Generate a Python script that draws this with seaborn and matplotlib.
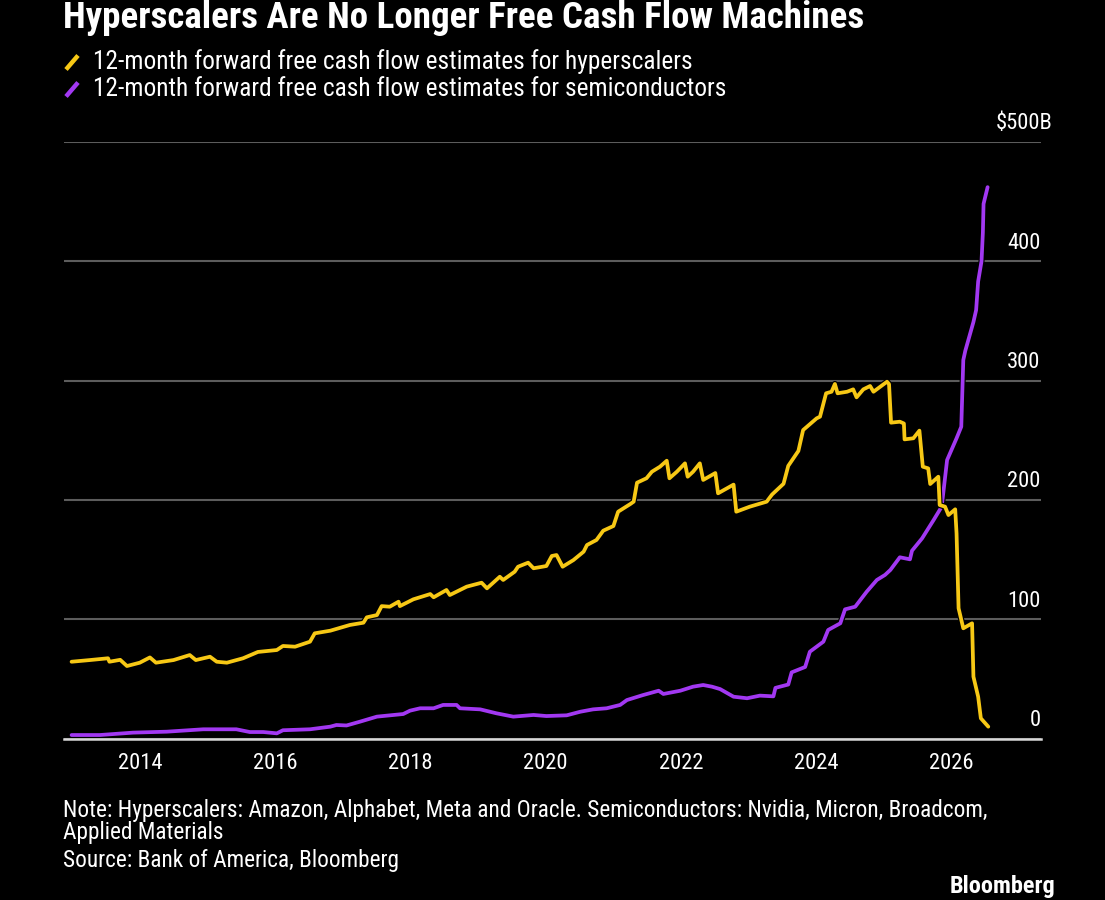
import matplotlib
matplotlib.use("Agg")
import numpy as np
import pandas as pd
import matplotlib.pyplot as plt
import seaborn as sns
from matplotlib import font_manager, transforms
from matplotlib.font_manager import FontProperties
from matplotlib.lines import Line2D
import matplotlib.patheffects as pe
import matplotlib.dates as mdates

# ---------------- data (decimal year, $B) ----------------
hyper_t = [2012.98, 2013.25, 2013.52, 2013.54, 2013.70, 2013.80, 2013.99, 2014.14, 2014.23, 2014.49,
           2014.73, 2014.82, 2015.03, 2015.13, 2015.28, 2015.52, 2015.74, 2016.02, 2016.11, 2016.29,
           2016.51, 2016.58, 2016.81, 2017.10, 2017.30, 2017.35, 2017.50, 2017.57, 2017.69, 2017.82,
           2017.84, 2018.04, 2018.29, 2018.34, 2018.53, 2018.58, 2018.83, 2019.05, 2019.13, 2019.32,
           2019.37, 2019.54, 2019.59, 2019.74, 2019.82, 2020.01, 2020.09, 2020.16, 2020.25, 2020.41,
           2020.56, 2020.61, 2020.75, 2020.85, 2021.00, 2021.07, 2021.25, 2021.30, 2021.35, 2021.49,
           2021.57, 2021.69, 2021.79, 2021.83, 2021.94, 2022.06, 2022.10, 2022.18, 2022.28, 2022.33,
           2022.51, 2022.55, 2022.78, 2022.82, 2023.02, 2023.27, 2023.35, 2023.52, 2023.59, 2023.74,
           2023.81, 2024.01, 2024.06, 2024.15, 2024.23, 2024.28, 2024.32, 2024.46, 2024.55, 2024.60,
           2024.70, 2024.80, 2024.85, 2025.05, 2025.08, 2025.11, 2025.24, 2025.30, 2025.31, 2025.44,
           2025.53, 2025.58, 2025.66, 2025.69, 2025.81, 2025.83, 2025.91, 2025.96, 2026.06, 2026.08,
           2026.11, 2026.18, 2026.31, 2026.33, 2026.40, 2026.44, 2026.55]
hyper_v = [64.4, 65.8, 67.3, 64.4, 66, 60.8, 63.6, 68, 63.6, 65.8,
           70, 65.8, 68.6, 64.4, 63.6, 67.3, 72.6, 74.2, 77.6, 77,
           81.2, 88.2, 90.4, 95.2, 97.1, 101.6, 103.5, 111, 110.5, 114.7,
           111, 116.7, 121.1, 118.4, 124.5, 120.3, 127.3, 130.6, 125.9, 135.6,
           132.9, 139.8, 144, 147.4, 142.7, 144.6, 153, 153.8, 144, 149.6,
           156.6, 162.2, 166.4, 174.2, 178.1, 190.1, 196.5, 198.5, 214.4, 218.1,
           223.6, 227.8, 232.8, 218.1, 223.6, 230.6, 219.4, 223.6, 230.6, 216.7,
           222.5, 205.5, 212.8, 190.1, 194.3, 198.5, 204.5, 213.5, 228.5, 241,
           258.5, 268.3, 269.7, 289.3, 290.6, 297.1, 289.3, 290.6, 292.6, 285.9,
           292.6, 295.4, 290.6, 299, 297, 264.7, 265.5, 264, 250.7, 251.6,
           258, 227.8, 226.4, 213.3, 219.4, 195.7, 194.3, 187.3, 192.1, 172,
           109.2, 92.4, 96.6, 51.9, 35.1, 17, 10]

semi_t = [2012.98, 2013.40, 2013.89, 2014.39, 2014.93, 2015.42, 2015.62, 2015.82, 2016.02, 2016.11,
          2016.51, 2016.81, 2016.90, 2017.05, 2017.25, 2017.50, 2017.89, 2017.99, 2018.14, 2018.34,
          2018.48, 2018.68, 2018.73, 2019.03, 2019.27, 2019.52, 2019.82, 2020.01, 2020.31, 2020.51,
          2020.70, 2020.90, 2021.10, 2021.20, 2021.44, 2021.67, 2021.74, 2021.99, 2022.18, 2022.33,
          2022.46, 2022.58, 2022.78, 2022.98, 2023.17, 2023.37, 2023.40, 2023.59, 2023.64, 2023.84,
          2023.91, 2024.11, 2024.18, 2024.36, 2024.43, 2024.58, 2024.75, 2024.90, 2025.02, 2025.10,
          2025.24, 2025.39, 2025.42, 2025.57, 2025.74, 2025.86, 2025.94, 2026.08, 2026.15, 2026.18,
          2026.21, 2026.33, 2026.37, 2026.40, 2026.45, 2026.47, 2026.48, 2026.54]
semi_v = [3, 3, 5, 5.8, 7.8, 7.8, 5.5, 5.5, 4.4, 7,
          7.8, 10, 11.4, 11, 14.2, 18.4, 20.6, 23.4, 25.4, 25.4,
          28.2, 28.2, 25.4, 24.5, 21.2, 18.4, 19.8, 18.9, 19.5, 22.5,
          24.5, 25.4, 28.2, 32.3, 36.5, 40.1, 37.4, 40.1, 43.5, 44.9,
          43.5, 41.5, 35.1, 33.8, 36, 35.4, 42.5, 45.3, 55.5, 60,
          72.8, 81.2, 91, 96.6, 108.3, 110.5, 123.1, 132.9, 137.1, 141.3,
          151.9, 150.2, 157.4, 167.8, 183.1, 194.3, 233.4, 251.6, 261.3, 317.2,
          325, 349, 359, 383, 400, 424, 448, 462]

series_labels = ["12-month forward free cash flow estimates for hyperscalers",
                 "12-month forward free cash flow estimates for semiconductors"]
y_ticks = [0, 100, 200, 300, 400, 500]
y_tick_labels = ["0", "100", "200", "300", "400", "$500B"]
title = "Hyperscalers Are No Longer Free Cash Flow Machines"
note_lines = ["Note: Hyperscalers: Amazon, Alphabet, Meta and Oracle. Semiconductors: Nvidia, Micron, Broadcom,",
              "Applied Materials",
              "Source: Bank of America, Bloomberg"]
brand = "Bloomberg"

YELLOW = "#F7C815"
PURPLE = "#A238F2"

# ---------------- style ----------------
sns.set_theme(style="dark", rc={"axes.facecolor": "black", "figure.facecolor": "black",
                                "savefig.facecolor": "black", "text.color": "white"})
plt.rcParams["font.family"] = ["Roboto", "DejaVu Sans"]

# look for a condensed sans (closer to the reference typeface); fall back to Roboto
entries = font_manager.fontManager.ttflist


def _is_cond(f):
    s = str(f.stretch).lower()
    n = f.name.lower()
    return (("condensed" in s and "extra" not in s and "ultra" not in s)
            or "condensed" in n or "narrow" in n) and f.style == "normal"


cond = [f for f in entries if _is_cond(f)]
pref = ["Roboto", "Open Sans", "Noto Sans", "Liberation Sans", "DejaVu Sans", "Lato", "Inter"]


def _rank(f):
    for i, p in enumerate(pref):
        if f.name.startswith(p):
            return i
    return len(pref)


FP_REG = FontProperties(family=["Roboto", "DejaVu Sans"])
FP_BOLD = FontProperties(family=["Roboto", "DejaVu Sans"], weight="bold")
if cond:
    cond.sort(key=_rank)
    fam = cond[0].name
    regs = [f for f in cond if f.name == fam and str(f.stretch) == str(cond[0].stretch)]
    reg = min(regs, key=lambda f: abs(int(f.weight) - 400) if str(f.weight).isdigit() else 0)
    bolds = [f for f in regs if str(f.weight).isdigit() and int(f.weight) >= 600]
    FP_REG = FontProperties(fname=reg.fname)
    FP_BOLD = FontProperties(fname=min(bolds, key=lambda f: abs(int(f.weight) - 700)).fname) if bolds else FontProperties(fname=reg.fname, weight="bold")


def to_date(y):
    yr = int(np.floor(y))
    s = pd.Timestamp(yr, 1, 1)
    e = pd.Timestamp(yr + 1, 1, 1)
    return s + (e - s) * (y - yr)


df_h = pd.DataFrame({"date": [to_date(t) for t in hyper_t], "value": hyper_v})
df_s = pd.DataFrame({"date": [to_date(t) for t in semi_t], "value": semi_v})

W, H = 1105, 900
fig = plt.figure(figsize=(W / 100, H / 100), dpi=100, facecolor="black")
x0, x1, ytop, ybot = 63.8, 1040.6, 141.8, 738.6
ax = fig.add_axes([x0 / W, 1 - ybot / H, (x1 - x0) / W, (ybot - ytop) / H])
ax.set_facecolor("black")

outline = [pe.Stroke(linewidth=4.4, foreground="black"), pe.Normal()]
sns.lineplot(data=df_s, x="date", y="value", color=PURPLE, linewidth=2.7, estimator=None,
             ax=ax, path_effects=outline, zorder=3)
sns.lineplot(data=df_h, x="date", y="value", color=YELLOW, linewidth=2.7, estimator=None,
             ax=ax, path_effects=outline, zorder=4)

ax.set_xlim(to_date(2012.865), to_date(2027.325))
ax.set_ylim(0, 500)
ax.set_xlabel("")
ax.set_ylabel("")

ax.set_yticks(y_ticks)
ax.yaxis.grid(True, color="#5c5c5c", linewidth=1.5)
ax.xaxis.grid(False)
ax.set_axisbelow(True)
ax.tick_params(axis="y", length=0, labelleft=False, labelright=False)

for s in ["top", "left", "right"]:
    ax.spines[s].set_visible(False)
ax.spines["bottom"].set_color("#d8d8d8")
ax.spines["bottom"].set_linewidth(1.8)
ax.spines["bottom"].set_zorder(5)

ax.xaxis.set_major_locator(mdates.YearLocator(2))
ax.xaxis.set_minor_locator(mdates.YearLocator(1))
ax.xaxis.set_major_formatter(mdates.DateFormatter("%Y"))

renderer = fig.canvas.get_renderer()


def fit(t, width_px):
    w = t.get_window_extent(renderer).width
    t.set_fontsize(t.get_fontsize() * width_px / w)
    return t.get_fontsize()


def width_px(s, fp, size):
    p = fig.text(0, 0, s, fontproperties=fp)
    p.set_fontsize(size)
    w = p.get_window_extent(renderer).width
    p.remove()
    return w


probe = fig.text(0, 0, "2014", fontproperties=FP_REG)
probe.set_fontsize(12)
tick_fs = fit(probe, 44)
probe.remove()

ax.tick_params(axis="x", which="both", direction="out", length=5.5, width=1.5,
               color="#d8d8d8", labelcolor="white", pad=5)
ax.tick_params(axis="x", which="minor", labelbottom=False)
fig.canvas.draw()
for lab in ax.get_xticklabels():
    lab.set_fontproperties(FP_REG)
    lab.set_fontsize(tick_fs)

# y labels: digits right-aligned at the axis end, unit "B" hanging past it
b_w = width_px("B", FP_REG, tick_fs) * 72 / 100
trans = transforms.blended_transform_factory(ax.transAxes, ax.transData)
for v, lab in zip(y_ticks, y_tick_labels):
    dx = b_w if lab.endswith("B") else 0
    a = ax.annotate(lab, xy=(1.0, v), xycoords=trans, xytext=(dx, 13), textcoords="offset points",
                    ha="right", va="center", color="white", annotation_clip=False,
                    fontproperties=FP_REG)
    a.set_fontsize(tick_fs)


def ftext(x, y, s, fp, size, **kw):
    t = fig.text(x / W, 1 - y / H, s, color="white", va="center", fontproperties=fp, **kw)
    t.set_fontsize(size)
    return t


t = ftext(63, 18, title, FP_BOLD, 20, ha="left")
fit(t, 799)

l1 = ftext(93, 62, series_labels[0], FP_REG, 14, ha="left")
leg_fs = fit(l1, 603)
ftext(93, 89, series_labels[1], FP_REG, leg_fs, ha="left")
for yc, col in [(62.5, YELLOW), (89.5, PURPLE)]:
    fig.add_artist(Line2D([66 / W, 78 / W], [1 - (yc + 7) / H, 1 - (yc - 7) / H],
                          color=col, linewidth=3.2, solid_capstyle="butt"))

n1 = ftext(63, 810, note_lines[0], FP_REG, 13, ha="left")
note_fs = fit(n1, 922)
ftext(63, 833, note_lines[1], FP_REG, note_fs, ha="left")
ftext(63, 860, note_lines[2], FP_REG, note_fs, ha="left")

b = ftext(1055, 886, brand, FP_BOLD, 14, ha="right")
fit(b, 106)

fig.savefig("out.png", dpi=100, facecolor="black")
